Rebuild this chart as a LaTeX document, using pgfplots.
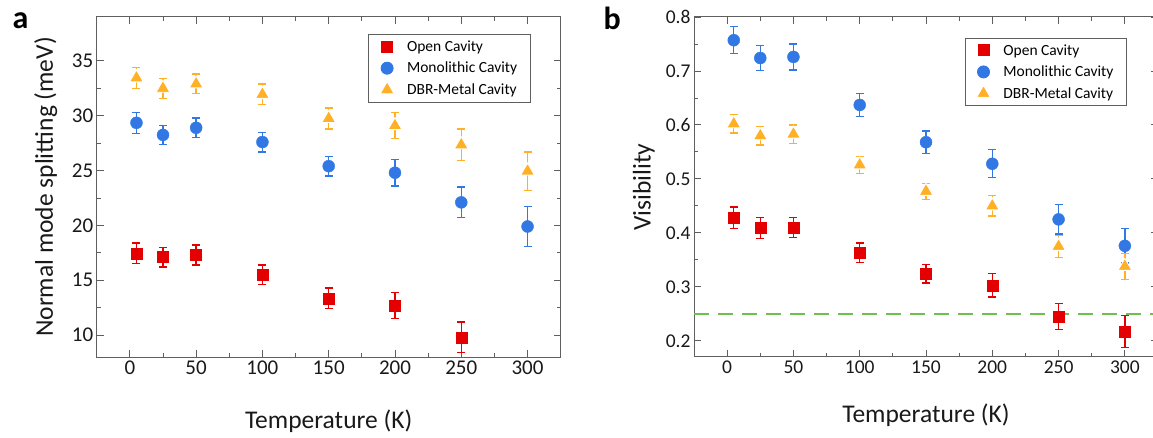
\documentclass[border=0pt]{standalone}
\usepackage{fontspec}
\setmainfont{Carlito}
\usepackage{pgfplots}
\usepackage{pgfplotstable}
\pgfplotsset{compat=1.18}

\definecolor{cred}{RGB}{228,0,0}
\definecolor{cblue}{RGB}{50,120,228}
\definecolor{corange}{RGB}{255,176,36}
\definecolor{cgreen}{RGB}{110,190,80}
\definecolor{caxis}{RGB}{95,95,95}

% columns: T value error
\pgfplotstableread{
x y e
5 17.45 0.95
25 17.1 0.9
50 17.3 0.9
100 15.5 0.9
150 13.35 0.95
200 12.7 1.2
250 9.8 1.4
}\openA
\pgfplotstableread{
x y e
5 29.35 0.95
25 28.25 0.85
50 28.9 0.9
100 27.6 0.9
150 25.4 0.9
200 24.8 1.2
250 22.1 1.4
300 19.9 1.8
}\monoA
\pgfplotstableread{
x y e
5 33.45 0.95
25 32.5 0.9
50 32.9 0.9
100 31.95 0.95
150 29.75 0.95
200 29.1 1.2
250 27.35 1.45
300 24.95 1.75
}\dbrA
\pgfplotstableread{
x y e
5 0.428 0.020
25 0.409 0.019
50 0.410 0.019
100 0.363 0.018
150 0.324 0.017
200 0.303 0.022
250 0.245 0.024
300 0.217 0.030
}\openB
\pgfplotstableread{
x y e
5 0.757 0.025
25 0.724 0.023
50 0.726 0.024
100 0.637 0.021
150 0.568 0.021
200 0.528 0.026
250 0.425 0.027
300 0.376 0.032
}\monoB
\pgfplotstableread{
x y e
5 0.602 0.017
25 0.580 0.017
50 0.583 0.017
100 0.526 0.016
150 0.477 0.015
200 0.450 0.019
250 0.375 0.020
300 0.338 0.024
}\dbrB

\pgfplotsset{
  panel/.style={
    scale only axis, width=464pt, height=340pt,
    xmin=-25, xmax=325,
    xtick={0,50,...,300},
    minor x tick num=1, minor y tick num=1,
    tick align=inside,
    major tick length=7pt, minor tick length=4pt,
    axis line style={caxis, line width=1pt},
    every tick/.style={caxis, line width=0.9pt},
    /pgf/number format/assume math mode=true,
    label style={font=\fontsize{25.5}{29}\selectfont, text=black!90},
    legend style={draw=caxis, line width=0.9pt,
      font=\fontsize{15.5}{18}\selectfont,
      inner xsep=11.5pt, inner ysep=4pt,
      column sep=11pt,
      row sep=5pt,
      cells={anchor=west, inner xsep=0pt, inner ysep=0pt, text height=11pt, text depth=4pt}},
    legend cell align=left,
    error bars/y dir=both, error bars/y explicit,
    error bars/error bar style={line width=1.3pt},
    error bars/error mark options={rotate=90, mark size=4pt, line width=1.3pt},
  },
  sred/.style={only marks, mark=square*, mark size=5.5pt, color=cred, mark options={draw=none, fill=cred}},
  sblue/.style={only marks, mark=*, mark size=6pt, color=cblue, mark options={draw=none, fill=cblue}},
  sorange/.style={only marks, mark=triangle*, mark size=8pt, color=corange, mark options={draw=white, line width=0.9pt, fill=corange}},
}

\begin{document}
\begin{tikzpicture}[x=1pt,y=1pt]
\useasboundingbox (0,0) rectangle (1153,437);

\begin{axis}[panel,
  at={(96.7pt,420pt)}, anchor=north west,
  ymin=8, ymax=39, ytick={10,15,...,35},
  tick label style={font=\fontsize{21}{21}\selectfont, text=black!90},
  ylabel={Normal mode splitting (meV)},
  xlabel={Temperature (K)},
  ylabel style={at={(axis description cs:-0.11,0.5)}, anchor=center},
  xlabel style={at={(axis description cs:0.5,-0.19)}, anchor=center},
  legend style={at={(0.936,0.95)}, anchor=north east},
]
\addplot+[sred] table[x=x, y=y, y error=e] {\openA};
\addlegendentry{Open Cavity}
\addplot+[sblue] table[x=x, y=y, y error=e] {\monoA};
\addlegendentry{Monolithic Cavity}
\addplot+[sorange] table[x=x, y=y, y error=e] {\dbrA};
\addlegendentry{DBR-Metal Cavity}
\end{axis}

\begin{axis}[panel,
  at={(694pt,420pt)}, anchor=north west,
  ymin=0.17, ymax=0.8, ytick={0.2,0.3,...,0.8},
  yticklabel style={/pgf/number format/.cd, fixed, fixed zerofill, precision=1},
  tick label style={font=\fontsize{19.5}{19.5}\selectfont, text=black!90},
  ylabel={Visibility},
  xlabel={Temperature (K)},
  ylabel style={at={(axis description cs:-0.108,0.5)}, anchor=center},
  xlabel style={at={(axis description cs:0.5,-0.172)}, anchor=center},
  legend style={at={(0.934,0.939)}, anchor=north east},
]
\addplot[cgreen, line width=2.6pt, dash pattern=on 15pt off 9pt, forget plot] coordinates {(-25,0.25) (325,0.25)};
\addplot+[sred] table[x=x, y=y, y error=e] {\openB};
\addlegendentry{Open Cavity}
\addplot+[sblue] table[x=x, y=y, y error=e] {\monoB};
\addlegendentry{Monolithic Cavity}
\addplot+[sorange] table[x=x, y=y, y error=e] {\dbrB};
\addlegendentry{DBR-Metal Cavity}
\end{axis}

\node[anchor=base west, font=\fontsize{32}{32}\selectfont\bfseries] at (9,408) {a};
\node[anchor=base west, font=\fontsize{32}{32}\selectfont\bfseries] at (600,407) {b};
\end{tikzpicture}
\end{document}
